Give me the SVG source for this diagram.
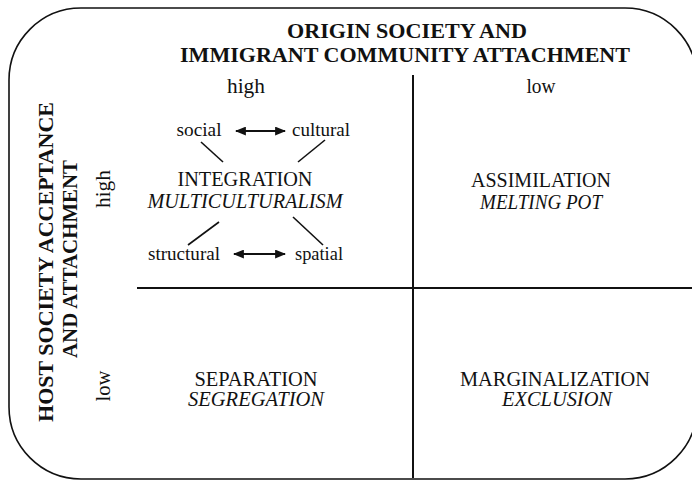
<svg xmlns="http://www.w3.org/2000/svg" width="692" height="480" viewBox="0 0 692 480">
<defs>
<style>
text{font-family:'Liberation Serif','Times New Roman','DejaVu Serif',serif;fill:#111;}
.title{font-size:21px;font-weight:bold;text-anchor:middle;}
.lab{font-size:20px;text-anchor:middle;}
.q{font-size:20px;text-anchor:middle;}
.qi{font-size:20px;font-style:italic;text-anchor:middle;}
.dim{font-size:19px;text-anchor:middle;}
.ln{stroke:#111;stroke-width:1.6;fill:none;}
.grid{stroke:#111;stroke-width:2;fill:none;}
.arr{stroke:#111;stroke-width:2.2;fill:none;marker-start:url(#ah);marker-end:url(#ah);}
</style>
<marker id="ah" viewBox="0 0 10 8" refX="9" refY="4" markerWidth="11" markerHeight="9" orient="auto-start-reverse" markerUnits="userSpaceOnUse">
<path d="M0,0 L10,4 L0,8 Z" fill="#111"/>
</marker>
</defs>
<rect x="0" y="0" width="692" height="480" fill="#fff"/>
<rect id="frame" x="9" y="8" width="688" height="471" rx="72" ry="72" fill="none" stroke="#111" stroke-width="1.6"/>

<g id="axes">
<text class="title" x="407" y="38" textLength="240" lengthAdjust="spacingAndGlyphs">ORIGIN SOCIETY AND</text>
<text class="title" x="405" y="62" textLength="450" lengthAdjust="spacingAndGlyphs">IMMIGRANT COMMUNITY ATTACHMENT</text>
<text class="lab" x="246" y="93" textLength="38" lengthAdjust="spacingAndGlyphs">high</text>
<text class="lab" x="541" y="93" textLength="29" lengthAdjust="spacingAndGlyphs">low</text>
<text class="title" transform="translate(53,262) rotate(-90)" textLength="320" lengthAdjust="spacingAndGlyphs">HOST SOCIETY ACCEPTANCE</text>
<text class="title" transform="translate(77,259) rotate(-90)" textLength="198" lengthAdjust="spacingAndGlyphs">AND ATTACHMENT</text>
<text class="lab" transform="translate(110,189) rotate(-90)" textLength="38" lengthAdjust="spacingAndGlyphs">high</text>
<text class="lab" transform="translate(110,386) rotate(-90)" textLength="31" lengthAdjust="spacingAndGlyphs">low</text>
</g>

<g id="grid">
<line class="grid" x1="413" y1="75" x2="413" y2="478"/>
<line class="grid" x1="137" y1="288" x2="692" y2="288"/>
</g>

<g id="integration">
<text class="q" x="245" y="186" textLength="135" lengthAdjust="spacingAndGlyphs">INTEGRATION</text>
<text class="qi" x="245" y="208" textLength="195" lengthAdjust="spacingAndGlyphs">MULTICULTURALISM</text>
</g>
<g id="social"><text class="dim" x="199" y="136" textLength="45" lengthAdjust="spacingAndGlyphs">social</text></g>
<g id="cultural"><text class="dim" x="321" y="136" textLength="58" lengthAdjust="spacingAndGlyphs">cultural</text></g>
<g id="structural"><text class="dim" x="184" y="260" textLength="72" lengthAdjust="spacingAndGlyphs">structural</text></g>
<g id="spatial"><text class="dim" x="319" y="260" textLength="48" lengthAdjust="spacingAndGlyphs">spatial</text></g>

<g id="assimilation">
<text class="q" x="541" y="187" textLength="140" lengthAdjust="spacingAndGlyphs">ASSIMILATION</text>
<text class="qi" x="541" y="209" textLength="122" lengthAdjust="spacingAndGlyphs">MELTING POT</text>
</g>
<g id="separation">
<text class="q" x="256" y="386" textLength="123" lengthAdjust="spacingAndGlyphs">SEPARATION</text>
<text class="qi" x="256" y="406" textLength="136" lengthAdjust="spacingAndGlyphs">SEGREGATION</text>
</g>
<g id="marginalization">
<text class="q" x="555" y="386" textLength="190" lengthAdjust="spacingAndGlyphs">MARGINALIZATION</text>
<text class="qi" x="557" y="406" textLength="110" lengthAdjust="spacingAndGlyphs">EXCLUSION</text>
</g>

<g id="connectors">
<line class="arr" x1="236" y1="131" x2="285" y2="131"/>
<line class="arr" x1="234" y1="254" x2="285" y2="254"/>
<line class="ln" x1="201" y1="142" x2="223" y2="162"/>
<line class="ln" x1="325" y1="140" x2="298" y2="162"/>
<line class="ln" x1="219" y1="222" x2="188" y2="245"/>
<line class="ln" x1="293" y1="217" x2="323" y2="245"/>
</g>
</svg>
